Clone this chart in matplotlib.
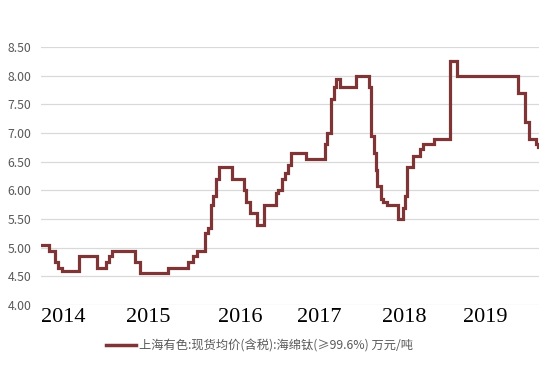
import matplotlib
matplotlib.use("Agg")
import matplotlib.pyplot as plt
from matplotlib.lines import Line2D

# Step change times (fractional year) and prices (万元/吨)
step_times = [
    2013.74, 2013.835, 2013.90, 2013.945, 2013.985, 2014.19, 2014.40, 2014.51,
    2014.54, 2014.585, 2014.85, 2014.91, 2015.24, 2015.485, 2015.545, 2015.59,
    2015.68, 2015.72, 2015.75, 2015.78, 2015.81, 2015.85, 2016.00, 2016.14,
    2016.165, 2016.215, 2016.295, 2016.38, 2016.525, 2016.55, 2016.60, 2016.63,
    2016.67, 2016.70, 2016.88, 2017.10, 2017.13, 2017.175, 2017.215, 2017.235,
    2017.28, 2017.47, 2017.63, 2017.65, 2017.68, 2017.71, 2017.715, 2017.765,
    2017.795, 2017.835, 2017.965, 2018.025, 2018.05, 2018.08, 2018.15, 2018.23,
    2018.27, 2018.40, 2018.585, 2018.67, 2019.395, 2019.475, 2019.525, 2019.60,
    2019.625,
]
prices = [
    5.05, 4.95, 4.75, 4.65, 4.60, 4.85, 4.65, 4.75,
    4.85, 4.95, 4.75, 4.55, 4.65, 4.75, 4.85, 4.95,
    5.25, 5.35, 5.75, 5.90, 6.20, 6.40, 6.20, 6.00,
    5.80, 5.60, 5.40, 5.75, 5.95, 6.00, 6.20, 6.30,
    6.45, 6.65, 6.55, 6.80, 7.00, 7.60, 7.80, 7.95,
    7.80, 8.00, 7.80, 6.95, 6.65, 6.35, 6.08, 5.85,
    5.80, 5.75, 5.50, 5.70, 5.90, 6.40, 6.60, 6.72,
    6.80, 6.90, 8.25, 8.00, 7.70, 7.20, 6.90, 6.80,
    6.75,
]
year_labels = ["2014", "2015", "2016", "2017", "2018", "2019"]
year_tick_pos = [2014.0, 2015.01, 2016.10, 2017.04, 2018.04, 2019.00]
y_ticks = [4.0, 4.5, 5.0, 5.5, 6.0, 6.5, 7.0, 7.5, 8.0, 8.5]
legend_label = "上海有色:现货均价(含税):海绵钛(≥99.6%) 万元/吨"

line_color = "#7F3535"

fig = plt.figure(figsize=(5.53, 3.65), dpi=100)
ax = fig.add_axes([41/553, 1-305/365, 498/553, 258/365])

ax.step(step_times, prices, where="post", color=line_color, lw=2.3,
        solid_joinstyle="miter", zorder=3)

ax.set_xlim(2013.74, 2019.64)
ax.set_ylim(4.0, 8.5)
ax.set_yticks(y_ticks)
ax.set_yticklabels([f"{v:.2f}" for v in y_ticks], color="#595959",
                   fontsize=8.8, family=["Noto Sans CJK SC", "DejaVu Sans"])
ax.tick_params(axis="y", length=0, pad=7)
ax.grid(axis="y", color="#D9D9D9", lw=0.9, zorder=0)
for s in ax.spines.values():
    s.set_visible(False)

ax.set_xticks(year_tick_pos)
ax.set_xticklabels(year_labels, fontsize=16, family="Liberation Serif",
                   color="black")
ax.tick_params(axis="x", length=0, pad=2)

handle = Line2D([0], [0], color=line_color, lw=2.5)
fig.legend([handle], [legend_label], loc="center", bbox_to_anchor=(260/553, 1-346/365),
           frameon=False, handlelength=2.4, handletextpad=0.3,
           prop={"family": ["Noto Sans CJK SC", "DejaVu Sans"], "size": 8.8},
           labelcolor="#595959")

fig.savefig("out.png", dpi=100)
